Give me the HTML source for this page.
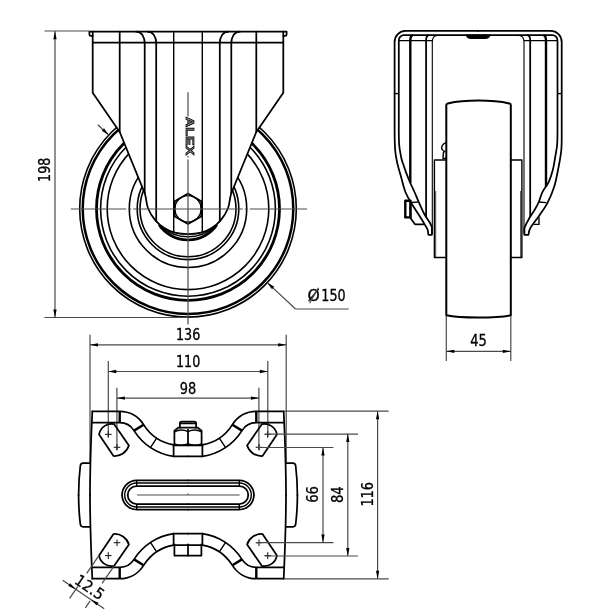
<!DOCTYPE html>
<html><head><meta charset="utf-8"><title>Caster drawing</title>
<style>
html,body{margin:0;padding:0;background:#fff}
svg{display:block}
.k{stroke:#000;stroke-width:1.75;fill:none;stroke-linejoin:round;stroke-linecap:round}
.k2{stroke:#000;stroke-width:2.4;fill:none;stroke-linejoin:round}
.kw{stroke:#000;stroke-width:2;fill:none;stroke-linejoin:round}
.k3{stroke:#000;stroke-width:2.7;fill:none}
.m{stroke:#000;stroke-width:1.4;fill:none;stroke-linejoin:round}
.m1{stroke:#000;stroke-width:1.1;fill:none}
.x{stroke:#222;stroke-width:1.1;fill:none}
.tk{stroke:#000;stroke-width:.7;fill:none}
.t{stroke:#4a4a4a;stroke-width:1.2;fill:none}
.c{stroke:#4a4a4a;stroke-width:1.2;fill:none}
.a{fill:#000;stroke:none}
.w{fill:#fff}
.b{fill:#000}
text.lg{fill:#999;stroke:#000;stroke-width:.75}
text{font-family:"DejaVu Sans Condensed","DejaVu Sans","Liberation Sans",sans-serif;fill:#000;stroke:#000;stroke-width:.3}
</style></head><body>
<svg width="600" height="610" viewBox="0 0 600 610" style="will-change:transform">
<rect width="600" height="610" fill="#fff"/>
<g id="front">
<circle cx="188.0" cy="208.8" r="108.3" fill="none" stroke="#000" stroke-width="1.6"/>
<circle cx="188.0" cy="208.8" r="105.3" fill="none" stroke="#000" stroke-width="2.5"/>
<circle cx="188.0" cy="208.8" r="91.5" fill="none" stroke="#000" stroke-width="2.8"/>
<circle cx="188.0" cy="208.8" r="87.4" fill="none" stroke="#000" stroke-width="1.6"/>
<circle cx="188.0" cy="208.8" r="80.8" fill="none" stroke="#000" stroke-width="1.6"/>
<circle cx="188.0" cy="208.8" r="58.7" fill="none" stroke="#000" stroke-width="1.6"/>
<circle cx="188.0" cy="208.8" r="50.8" fill="none" stroke="#000" stroke-width="1.6"/>
<circle cx="188.0" cy="208.8" r="48.0" fill="none" stroke="#000" stroke-width="1.6"/>
<path class="m w" d="M159.2,225 A35.15,35.15 0 0 0 216.8,225 Z" />
<path class="k3" d="M159.2,225 A35.15,35.15 0 0 0 216.8,225" />
<path class="m" d="M160.5,226 A40.6,40.6 0 0 0 215.5,226" />
<path class="k w" d="M92.7,31.6 L92.7,92.7 L119.7,132.0 L144.7,193.2 C146.20,197.03 146.25,203.82 148.00,208.30 C149.75,212.78 152.48,216.82 155.20,220.10 C157.92,223.38 161.03,225.90 164.30,228.00 C167.57,230.10 170.85,231.67 174.80,232.70 C178.75,233.73 183.33,234.20 188.00,234.20 C192.67,234.20 197.25,233.73 201.20,232.70 C205.15,231.67 208.43,230.10 211.70,228.00 C214.97,225.90 218.08,223.38 220.80,220.10 C223.52,216.82 226.25,212.78 228.00,208.30 C229.75,203.82 229.80,197.03 231.30,193.20 L256.30,132.0 L283.30,92.7 L283.30,31.6 Z" />
<path class="k" d="M93,31.6 L89.4,31.6 L89.4,34.4 Q89.4,35.8 91,35.8 L92.7,35.8" />
<path class="k" d="M283.0,31.6 L286.6,31.6 L286.6,34.4 Q286.6,35.8 285.0,35.8 L283.3,35.8" />
<line class="k" x1="92.70" y1="42.70" x2="283.30" y2="42.70"/>
<line class="k" x1="119.70" y1="31.60" x2="119.70" y2="132.00"/>
<line class="k" x1="256.30" y1="31.60" x2="256.30" y2="132.00"/>
<path class="k" d="M144.7,193.20 L144.7,43.5 C144.7,36.5 141.5,31.6 136.1,31.6" />
<path class="k" d="M231.3,193.20 L231.3,43.5 C231.3,36.5 234.5,31.6 239.9,31.6" />
<path class="k" d="M156.2,221.30 L156.2,43.5 C156.2,36.5 153.0,31.6 147.6,31.6" />
<path class="k" d="M219.8,221.30 L219.8,43.5 C219.8,36.5 223.0,31.6 228.4,31.6" />
<line class="m" x1="173.70" y1="31.60" x2="173.70" y2="232.37"/>
<line class="m" x1="202.30" y1="31.60" x2="202.30" y2="232.37"/>
<polygon class="k w" points="188.00,193.50 201.25,201.15 201.25,216.45 188.00,224.10 174.75,216.45 174.75,201.15"/>
<circle class="m" cx="188.0" cy="208.8" r="13.2" fill="none"/>
<text class="lg" x="185.9" y="116.8" font-size="11.8" font-weight="bold" textLength="38.5" lengthAdjust="spacingAndGlyphs" transform="rotate(90 185.9 116.8)" style="font-family:'Liberation Sans',sans-serif">ALEX</text>
<line class="c" x1="70.8" y1="209" x2="307" y2="209" stroke-dasharray="55.5 2 3 2 109.4 2 3 2 80"/>
<line class="c" x1="188.00" y1="92.20" x2="188.00" y2="116.50"/>
<line class="c" x1="188.00" y1="156.00" x2="188.00" y2="157.50"/>
<line class="c" x1="188.00" y1="159.50" x2="188.00" y2="324.50"/>
</g>
<line class="t" x1="44.50" y1="31.00" x2="89.30" y2="31.00"/>
<line class="t" x1="44.50" y1="317.50" x2="188.00" y2="317.50"/>
<line class="t" x1="55.00" y1="31.00" x2="55.00" y2="317.50"/>
<polygon class="a" points="55.00,31.20 56.65,39.20 53.35,39.20"/>
<polygon class="a" points="55.00,317.50 53.35,309.50 56.65,309.50"/>
<text x="50.00" y="181.90" font-size="15.4" textLength="24.2" lengthAdjust="spacingAndGlyphs" transform="rotate(-90 50.00 181.90)">198</text>
<line class="t" x1="267.25" y1="282.61" x2="295.60" y2="309.00"/>
<line class="t" x1="295.60" y1="309.00" x2="348.80" y2="309.00"/>
<polygon class="a" points="267.25,282.61 274.23,286.85 271.98,289.27"/>
<line class="t" x1="108.75" y1="134.99" x2="97.77" y2="124.77"/>
<polygon class="a" points="108.75,134.99 101.77,130.75 104.02,128.33"/>
<text y="301.4" font-size="15.4"><tspan x="307.6" textLength="12.3" lengthAdjust="spacingAndGlyphs" style="font-family:'DejaVu Sans',sans-serif">Ø</tspan><tspan x="321.3" textLength="24.3" lengthAdjust="spacingAndGlyphs">150</tspan></text>
<line class="t" x1="309.60" y1="303.30" x2="318.40" y2="287.70"/>
<line class="t" x1="90.00" y1="334.70" x2="90.00" y2="462.00"/>
<line class="t" x1="286.20" y1="334.70" x2="286.20" y2="462.00"/>
<line class="t" x1="90.00" y1="344.80" x2="286.20" y2="344.80"/>
<polygon class="a" points="90.00,344.80 98.00,343.15 98.00,346.45"/>
<polygon class="a" points="286.20,344.80 278.20,346.45 278.20,343.15"/>
<text x="176.00" y="340.00" font-size="15.4" textLength="24.3" lengthAdjust="spacingAndGlyphs">136</text>
<line class="t" x1="108.30" y1="361.00" x2="108.30" y2="437.00"/>
<line class="t" x1="267.80" y1="361.00" x2="267.80" y2="437.00"/>
<line class="t" x1="108.30" y1="371.50" x2="267.80" y2="371.50"/>
<polygon class="a" points="108.30,371.50 116.30,369.85 116.30,373.15"/>
<polygon class="a" points="267.80,371.50 259.80,373.15 259.80,369.85"/>
<text x="176.00" y="367.10" font-size="15.4" textLength="24.3" lengthAdjust="spacingAndGlyphs">110</text>
<line class="t" x1="116.90" y1="387.80" x2="116.90" y2="450.00"/>
<line class="t" x1="258.90" y1="387.80" x2="258.90" y2="450.00"/>
<line class="t" x1="116.90" y1="398.10" x2="258.90" y2="398.10"/>
<polygon class="a" points="116.90,398.10 124.90,396.45 124.90,399.75"/>
<polygon class="a" points="258.90,398.10 250.90,399.75 250.90,396.45"/>
<text x="179.70" y="394.10" font-size="15.4" textLength="16.5" lengthAdjust="spacingAndGlyphs">98</text>
<line class="t" x1="446.30" y1="316.00" x2="446.30" y2="361.00"/>
<line class="t" x1="510.80" y1="316.00" x2="510.80" y2="361.00"/>
<line class="t" x1="446.30" y1="351.30" x2="510.80" y2="351.30"/>
<polygon class="a" points="446.30,351.30 454.30,349.65 454.30,352.95"/>
<polygon class="a" points="510.80,351.30 502.80,352.95 502.80,349.65"/>
<text x="470.20" y="345.80" font-size="15.4" textLength="16.6" lengthAdjust="spacingAndGlyphs">45</text>
<g id="sideL">
<path class="k2 w" d="M410.4,200.8 L405.3,200.8 L405.3,217.4 L410.4,217.4 Z" />
<path class="k" d="M410.6,200.8 L410.6,218.2 L415,224.3 L423.2,224.3" />
<path class="k" d="M478.15,30.9 L405.6,30.9 A11,11 0 0 0 394.6,41.9 L394.6,128 C394.60,134.67 394.73,144.57 395.20,150.50 C395.67,156.43 396.42,159.18 397.40,163.60 C398.38,168.02 399.77,172.27 401.10,177.00 C402.43,181.73 403.63,187.53 405.40,192.00 C407.17,196.47 409.47,200.00 411.70,203.80 C413.93,207.60 416.57,211.25 418.80,214.80 C421.03,218.35 423.63,222.60 425.10,225.10 C426.57,227.60 427.05,228.18 427.60,229.80 C428.15,231.42 428.23,232.80 428.40,234.80 L431.9,234.8 L431.9,228" />
<path class="k" d="M478.15,35.2 L404,35.2 A5.2,5.2 0 0 0 398.8,40.4 L398.8,124 C398.80,130.67 398.72,138.50 399.10,144.00 C399.48,149.50 400.45,153.73 401.10,157.00 C401.75,160.27 402.13,160.92 403.00,163.60 C403.87,166.28 404.97,169.62 406.30,173.10 C407.63,176.58 409.63,181.35 411.00,184.50 C412.37,187.65 413.20,189.05 414.50,192.00 C415.80,194.95 417.17,198.53 418.80,202.20 C420.43,205.87 422.45,210.58 424.30,214.00 C426.15,217.42 428.63,220.45 429.90,222.70 C431.17,224.95 430.90,224.83 431.90,227.50" />
<line class="m" x1="394.60" y1="93.60" x2="398.80" y2="93.60"/>
<path class="m" d="M398.8,40.6 L432.5,40.6" />
<path class="m1" d="M432.3,234 L432.3,42 Q432.3,35.4 438.5,35.3" />
<path class="k2" d="M410.3,182.98 L410.3,40.6 Q410.3,36 412.8,35.2" />
<path class="k" d="M426.1,216.96 L426.1,40.6 Q426.1,36 428.6,35.2" />
<line class="m" x1="410.00" y1="202.60" x2="417.80" y2="202.00"/>
<path class="m" d="M445.7,160 L434.4,160 L434.4,257.5 L445.7,257.5" />
<line class="tk" x1="435.70" y1="191.00" x2="435.70" y2="257.50"/>
</g>
<g id="sideR" transform="translate(956.3,0) scale(-1,1)">
<path class="m" d="M417.3,217.2 L417.3,224.4 L422.5,224.4" />
<path class="k" d="M478.15,30.9 L405.6,30.9 A11,11 0 0 0 394.6,41.9 L394.6,128 C394.60,134.67 394.38,143.00 395.00,150.00 C395.62,157.00 397.10,163.83 398.30,170.00 C399.50,176.17 400.45,181.53 402.20,187.00 C403.95,192.47 406.28,197.98 408.80,202.80 C411.32,207.62 414.47,211.75 417.30,215.90 C420.13,220.05 424.05,224.55 425.80,227.70 C427.55,230.85 427.63,232.80 427.80,234.80 L431.9,234.8 L431.9,228" />
<path class="k" d="M478.15,35.2 L404,35.2 A5.2,5.2 0 0 0 398.8,40.4 L398.8,124 C398.80,130.67 398.72,138.50 399.10,144.00 C399.48,149.50 400.37,152.67 401.10,157.00 C401.83,161.33 402.43,165.87 403.50,170.00 C404.57,174.13 405.75,178.08 407.50,181.80 C409.25,185.52 412.37,189.02 414.00,192.30 C415.63,195.58 416.08,198.67 417.30,201.50 C418.52,204.33 419.65,206.47 421.30,209.30 C422.95,212.13 425.43,215.38 427.20,218.50 C428.97,221.62 430.90,225.33 431.90,228.00" />
<line class="m" x1="394.60" y1="93.60" x2="398.80" y2="93.60"/>
<path class="m" d="M398.8,40.6 L432.5,40.6" />
<path class="m1" d="M432.3,234 L432.3,42 Q432.3,35.4 438.5,35.3" />
<path class="k2" d="M410.3,186.42 L410.3,40.6 Q410.3,36 412.8,35.2" />
<path class="k" d="M426.1,216.62 L426.1,40.6 Q426.1,36 428.6,35.2" />
<line class="m" x1="410.00" y1="202.60" x2="417.80" y2="202.00"/>
<path class="m" d="M445.7,160 L434.4,160 L434.4,257.5 L445.7,257.5" />
<line class="tk" x1="435.70" y1="191.00" x2="435.70" y2="257.50"/>
</g>
<path class="m" d="M446.3,158.5 L443,158.5 L443.4,152.5 L444.8,151.5 Q441,150 441.8,146.5 Q443,143.5 446.3,142.5" />
<path class="k b" d="M466.6,35.4 Q468,38.2 471,38.2 L485.3,38.2 Q488.3,38.2 489.7,35.4 Z" />
<path class="kw w" d="M446.3,315.3 L446.3,105 Q446.3,103.7 447.8,103.4 C465,99.6 492,99.6 509.3,103.4 Q510.8,103.7 510.8,105 L510.8,315.3 C497,318.3 460,318.3 446.3,315.3 Z" />
<g transform="translate(0.0,0.0) scale(1,1)">
<path class="k" d="M92.3,411.3 L119.7,411.3 A28.2,28.2 0 0 1 143.61,424.66 A44.6,44.6 0 0 0 173.6,444.93 L188,444.93" />
<path class="k" d="M92.3,422.7 L119.7,422.7 A16.9,16.9 0 0 1 134.03,430.64 A55.9,55.9 0 0 0 173.6,456.37 L188,456.37" />
<line class="k2" x1="119.70" y1="411.30" x2="119.70" y2="422.70"/>
<line class="k2" x1="143.61" y1="424.66" x2="134.03" y2="430.64"/>
<line class="m" x1="156.69" y1="438.13" x2="150.42" y2="447.53"/>
<line class="k" x1="173.60" y1="444.93" x2="173.60" y2="456.37"/>
<path class="k" d="M92.3,411.3 C91,440 90,465 90,495" />
<path class="k" d="M99.06,434.56 A12.6,12.6 0 0 1 114.2,424.2 L128.9,445.6 A15,15 0 0 1 113.5,456 Z" />
<line class="x" x1="105.00" y1="434.40" x2="111.60" y2="434.40"/>
<line class="x" x1="108.30" y1="431.10" x2="108.30" y2="437.70"/>
<line class="x" x1="113.70" y1="447.30" x2="120.30" y2="447.30"/>
<line class="x" x1="117.00" y1="444.00" x2="117.00" y2="450.60"/>
<path class="k" d="M90,463.2 L83,463.2 Q80.6,463.2 80.3,466 Q78.6,480 78.6,495" />
<path class="k" d="M188,480.4 L136.7,480.4 A14.6,14.6 0 0 0 122.1,495" />
<path class="m" d="M188,483 L136.7,483 A12,12 0 0 0 124.7,495" />
<path class="k" d="M188,486 L136.7,486 A9,9 0 0 0 127.7,495" />
<line class="m" x1="136.70" y1="480.40" x2="136.70" y2="486.00"/>
</g>
<g transform="translate(376.0,0.0) scale(-1,1)">
<path class="k" d="M92.3,411.3 L119.7,411.3 A28.2,28.2 0 0 1 143.61,424.66 A44.6,44.6 0 0 0 173.6,444.93 L188,444.93" />
<path class="k" d="M92.3,422.7 L119.7,422.7 A16.9,16.9 0 0 1 134.03,430.64 A55.9,55.9 0 0 0 173.6,456.37 L188,456.37" />
<line class="k2" x1="119.70" y1="411.30" x2="119.70" y2="422.70"/>
<line class="k2" x1="143.61" y1="424.66" x2="134.03" y2="430.64"/>
<line class="m" x1="156.69" y1="438.13" x2="150.42" y2="447.53"/>
<line class="k" x1="173.60" y1="444.93" x2="173.60" y2="456.37"/>
<path class="k" d="M92.3,411.3 C91,440 90,465 90,495" />
<path class="k" d="M99.06,434.56 A12.6,12.6 0 0 1 114.2,424.2 L128.9,445.6 A15,15 0 0 1 113.5,456 Z" />
<line class="x" x1="105.00" y1="434.40" x2="111.60" y2="434.40"/>
<line class="x" x1="108.30" y1="431.10" x2="108.30" y2="437.70"/>
<line class="x" x1="113.70" y1="447.30" x2="120.30" y2="447.30"/>
<line class="x" x1="117.00" y1="444.00" x2="117.00" y2="450.60"/>
<path class="k" d="M90,463.2 L83,463.2 Q80.6,463.2 80.3,466 Q78.6,480 78.6,495" />
<path class="k" d="M188,480.4 L136.7,480.4 A14.6,14.6 0 0 0 122.1,495" />
<path class="m" d="M188,483 L136.7,483 A12,12 0 0 0 124.7,495" />
<path class="k" d="M188,486 L136.7,486 A9,9 0 0 0 127.7,495" />
<line class="m" x1="136.70" y1="480.40" x2="136.70" y2="486.00"/>
</g>
<g transform="translate(0.0,990.0) scale(1,-1)">
<path class="k" d="M92.3,411.3 L119.7,411.3 A28.2,28.2 0 0 1 143.61,424.66 A44.6,44.6 0 0 0 173.6,444.93 L188,444.93" />
<path class="k" d="M92.3,422.7 L119.7,422.7 A16.9,16.9 0 0 1 134.03,430.64 A55.9,55.9 0 0 0 173.6,456.37 L188,456.37" />
<line class="k2" x1="119.70" y1="411.30" x2="119.70" y2="422.70"/>
<line class="k2" x1="143.61" y1="424.66" x2="134.03" y2="430.64"/>
<line class="m" x1="156.69" y1="438.13" x2="150.42" y2="447.53"/>
<line class="k" x1="173.60" y1="444.93" x2="173.60" y2="456.37"/>
<path class="k" d="M92.3,411.3 C91,440 90,465 90,495" />
<path class="k" d="M99.06,434.56 A12.6,12.6 0 0 1 114.2,424.2 L128.9,445.6 A15,15 0 0 1 113.5,456 Z" />
<line class="x" x1="105.00" y1="434.40" x2="111.60" y2="434.40"/>
<line class="x" x1="108.30" y1="431.10" x2="108.30" y2="437.70"/>
<line class="x" x1="113.70" y1="447.30" x2="120.30" y2="447.30"/>
<line class="x" x1="117.00" y1="444.00" x2="117.00" y2="450.60"/>
<path class="k" d="M90,463.2 L83,463.2 Q80.6,463.2 80.3,466 Q78.6,480 78.6,495" />
<path class="k" d="M188,480.4 L136.7,480.4 A14.6,14.6 0 0 0 122.1,495" />
<path class="m" d="M188,483 L136.7,483 A12,12 0 0 0 124.7,495" />
<path class="k" d="M188,486 L136.7,486 A9,9 0 0 0 127.7,495" />
<line class="m" x1="136.70" y1="480.40" x2="136.70" y2="486.00"/>
</g>
<g transform="translate(376.0,990.0) scale(-1,-1)">
<path class="k" d="M92.3,411.3 L119.7,411.3 A28.2,28.2 0 0 1 143.61,424.66 A44.6,44.6 0 0 0 173.6,444.93 L188,444.93" />
<path class="k" d="M92.3,422.7 L119.7,422.7 A16.9,16.9 0 0 1 134.03,430.64 A55.9,55.9 0 0 0 173.6,456.37 L188,456.37" />
<line class="k2" x1="119.70" y1="411.30" x2="119.70" y2="422.70"/>
<line class="k2" x1="143.61" y1="424.66" x2="134.03" y2="430.64"/>
<line class="m" x1="156.69" y1="438.13" x2="150.42" y2="447.53"/>
<line class="k" x1="173.60" y1="444.93" x2="173.60" y2="456.37"/>
<path class="k" d="M92.3,411.3 C91,440 90,465 90,495" />
<path class="k" d="M99.06,434.56 A12.6,12.6 0 0 1 114.2,424.2 L128.9,445.6 A15,15 0 0 1 113.5,456 Z" />
<line class="x" x1="105.00" y1="434.40" x2="111.60" y2="434.40"/>
<line class="x" x1="108.30" y1="431.10" x2="108.30" y2="437.70"/>
<line class="x" x1="113.70" y1="447.30" x2="120.30" y2="447.30"/>
<line class="x" x1="117.00" y1="444.00" x2="117.00" y2="450.60"/>
<path class="k" d="M90,463.2 L83,463.2 Q80.6,463.2 80.3,466 Q78.6,480 78.6,495" />
<path class="k" d="M188,480.4 L136.7,480.4 A14.6,14.6 0 0 0 122.1,495" />
<path class="m" d="M188,483 L136.7,483 A12,12 0 0 0 124.7,495" />
<path class="k" d="M188,486 L136.7,486 A9,9 0 0 0 127.7,495" />
<line class="m" x1="136.70" y1="480.40" x2="136.70" y2="486.00"/>
</g>
<line class="t" x1="137.00" y1="495.00" x2="239.60" y2="495.00"/>
<line class="t" x1="188.00" y1="493.50" x2="188.00" y2="495.00"/>
<path class="k w" d="M174.4,445.4 L174.4,430.6 L178.3,427.7 L197.7,427.7 L201.6,430.6 L201.6,445.4 Z" />
<line class="k" x1="188.00" y1="429.50" x2="188.00" y2="445.40"/>
<path class="m" d="M174.4,431.8 Q181,428.4 188,431.6 Q195,428.4 201.6,431.8" />
<path class="m" d="M174.4,443.8 Q181,446.3 188,444 Q195,446.3 201.6,443.8" />
<path class="k" d="M179.9,427.7 L179.9,423.4 Q179.9,421.7 181.6,421.7 L194.4,421.7 Q196.1,421.7 196.1,423.4 L196.1,427.7" />
<line class="k" x1="179.90" y1="423.30" x2="196.10" y2="423.30"/>
<path class="k" d="M174.4,544.4 L174.4,555.6 L201.4,555.6 L201.4,544.4" />
<line class="k" x1="188.00" y1="544.40" x2="188.00" y2="555.60"/>
<line class="t" x1="256.50" y1="447.50" x2="333.50" y2="447.50"/>
<line class="t" x1="256.50" y1="542.60" x2="333.50" y2="542.60"/>
<line class="t" x1="323.00" y1="447.50" x2="323.00" y2="542.60"/>
<polygon class="a" points="323.00,447.50 324.65,455.50 321.35,455.50"/>
<polygon class="a" points="323.00,542.60 321.35,534.60 324.65,534.60"/>
<text x="317.90" y="502.80" font-size="15.4" textLength="16.8" lengthAdjust="spacingAndGlyphs" transform="rotate(-90 317.90 502.80)">66</text>
<line class="t" x1="265.00" y1="434.10" x2="358.00" y2="434.10"/>
<line class="t" x1="265.00" y1="556.00" x2="358.00" y2="556.00"/>
<line class="t" x1="347.80" y1="434.10" x2="347.80" y2="556.00"/>
<polygon class="a" points="347.80,434.10 349.45,442.10 346.15,442.10"/>
<polygon class="a" points="347.80,556.00 346.15,548.00 349.45,548.00"/>
<text x="342.90" y="503.10" font-size="15.4" textLength="16.8" lengthAdjust="spacingAndGlyphs" transform="rotate(-90 342.90 503.10)">84</text>
<line class="t" x1="284.70" y1="411.20" x2="388.70" y2="411.20"/>
<line class="t" x1="284.70" y1="578.80" x2="388.70" y2="578.80"/>
<line class="t" x1="377.60" y1="411.20" x2="377.60" y2="578.80"/>
<polygon class="a" points="377.60,411.20 379.25,419.20 375.95,419.20"/>
<polygon class="a" points="377.60,578.80 375.95,570.80 379.25,570.80"/>
<text x="373.00" y="506.60" font-size="15.4" textLength="24.6" lengthAdjust="spacingAndGlyphs" transform="rotate(-90 373.00 506.60)">116</text>
<line class="t" x1="99.06" y1="555.44" x2="86.72" y2="573.40"/>
<line class="t" x1="77.84" y1="586.34" x2="69.63" y2="598.29"/>
<line class="t" x1="114.20" y1="565.80" x2="102.09" y2="583.43"/>
<line class="t" x1="90.15" y1="600.82" x2="85.33" y2="607.82"/>
<line class="t" x1="62.67" y1="580.17" x2="104.18" y2="608.64"/>
<polygon class="a" points="75.85,589.22 68.33,586.05 70.19,583.33"/>
<polygon class="a" points="90.99,599.58 98.52,602.75 96.65,605.47"/>
<text x="73.50" y="582.80" font-size="15.4" textLength="31.8" lengthAdjust="spacingAndGlyphs" transform="rotate(34.08490803608933 73.50 582.80)">12.5</text>
</svg>
</body></html>
